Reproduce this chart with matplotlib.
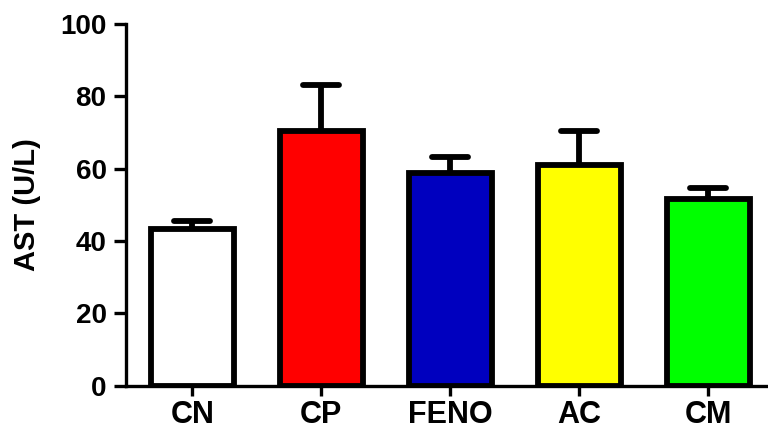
import matplotlib
matplotlib.use("Agg")
import matplotlib.pyplot as plt
import numpy as np

# AST activity per group (mean and upper SEM)
groups = ["CN", "CP", "FENO", "AC", "CM"]
ast_mean = [43.4, 70.5, 58.7, 61.1, 51.5]
ast_sem = [2.2, 12.7, 4.6, 9.4, 3.1]
bar_colors = ["#FFFFFF", "#FF0000", "#0000BF", "#FFFF00", "#00FF00"]

plt.rcParams["font.family"] = ["Liberation Sans", "DejaVu Sans"]
plt.rcParams["font.weight"] = "bold"

fig = plt.figure(figsize=(7.68, 4.23), dpi=100)
ax = fig.add_axes([0.164, 0.0882, 0.836, 0.8551])

x = np.arange(len(groups))
lw = 4.2

# upper-only error bars with rounded caps
tops = np.array(ast_mean) + np.array(ast_sem)
ax.vlines(x, ast_mean, tops, color="black", linewidth=lw, zorder=1)
ax.hlines(tops, x - 0.14, x + 0.14, color="black", linewidth=lw,
          capstyle="round", zorder=1)

ax.bar(x, ast_mean, width=0.64, color=bar_colors, edgecolor="black",
       linewidth=lw, zorder=2)

ax.set_xlim(-0.514, 4.463)
ax.set_ylim(0, 100)
ax.set_yticks(np.arange(0, 101, 20))
ax.set_xticks(x)
ax.set_xticklabels(groups, fontsize=22, fontweight="bold")
ax.tick_params(axis="y", labelsize=20, width=2.4, length=9, pad=5)
ax.tick_params(axis="x", width=2.4, length=7, pad=3)
for lab in ax.get_yticklabels():
    lab.set_fontweight("bold")

ax.set_ylabel("AST (U/L)", fontsize=21, fontweight="bold", labelpad=14)

for side in ["top", "right"]:
    ax.spines[side].set_visible(False)
for side in ["left", "bottom"]:
    ax.spines[side].set_linewidth(2.4)

fig.savefig("out.png", dpi=100)
